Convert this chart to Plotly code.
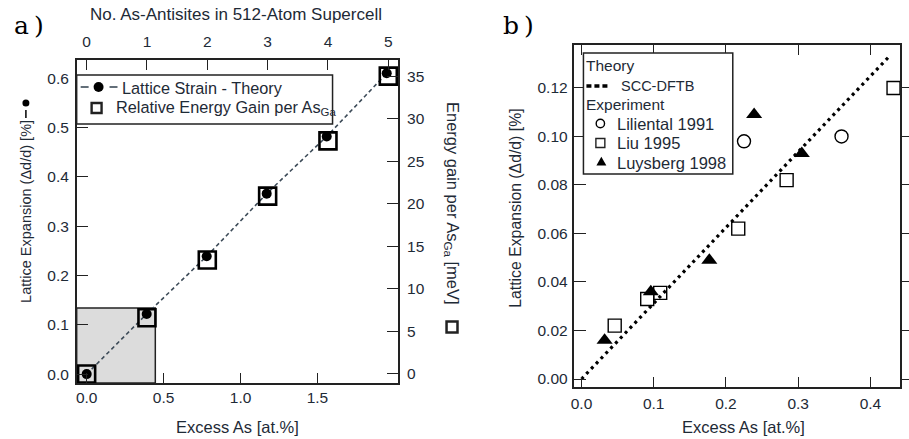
import plotly.graph_objects as go

W, H = 909, 439

# ---- panel a: lattice strain and energy gain vs. number of As antisites ----
antisites = [0, 1, 2, 3, 4, 5]
excess_as_a = [0.0, 0.39, 0.78, 1.17, 1.56, 1.95]
strain_theory = [0.0, 0.122, 0.239, 0.366, 0.482, 0.610]
energy_gain = [0.0, 6.6, 13.4, 20.9, 27.4, 35.0]

# ---- panel b: theory vs. experiment ----
dftb_x = [0.0, 0.428]
dftb_y = [0.0, 0.1336]
liliental_x = [0.225, 0.360]
liliental_y = [0.098, 0.100]
liu_x = [0.046, 0.091, 0.109, 0.217, 0.284, 0.432]
liu_y = [0.022, 0.033, 0.0355, 0.062, 0.082, 0.120]
luysberg_x = [0.032, 0.096, 0.177, 0.239, 0.305]
luysberg_y = [0.016, 0.036, 0.049, 0.109, 0.093]

a_xticks = [0.0, 0.5, 1.0, 1.5]
a_yticks = [0.0, 0.1, 0.2, 0.3, 0.4, 0.5, 0.6]
a_y2ticks = [0, 5, 10, 15, 20, 25, 30, 35]
b_xticks = [0.0, 0.1, 0.2, 0.3, 0.4]
b_yticks = [0.00, 0.02, 0.04, 0.06, 0.08, 0.10, 0.12]

TXT = "#1e2a36"
LINE = "#222222"
STRAIN_LINE = "#3d4b58"
FONT = "Liberation Sans, Arial, sans-serif"
FS = 15.5


def px(x):
    return x / W


def py(y):
    return 1 - y / H


fig = go.Figure()

# panel a traces
fig.add_trace(go.Scatter(
    x=excess_as_a, y=strain_theory, xaxis="x", yaxis="y",
    mode="lines+markers", name="Lattice Strain - Theory",
    line=dict(color=STRAIN_LINE, width=1.6, dash="4px,3px"),
    marker=dict(symbol="circle", size=10, color="black"),
))
fig.add_trace(go.Scatter(
    x=antisites, y=energy_gain, xaxis="x2", yaxis="y2",
    mode="markers", name="Relative Energy Gain per AsGa",
    marker=dict(symbol="square-open", size=17, color="black", line=dict(width=2.6)),
))

# panel b traces
fig.add_trace(go.Scatter(
    x=dftb_x, y=dftb_y, xaxis="x3", yaxis="y3", mode="lines", name="SCC-DFTB",
    line=dict(color="black", width=3.2, dash="3px,4px"),
))
fig.add_trace(go.Scatter(
    x=liliental_x, y=liliental_y, xaxis="x3", yaxis="y3", mode="markers", name="Liliental 1991",
    marker=dict(symbol="circle-open", size=13, color="black", line=dict(width=1.4)),
))
fig.add_trace(go.Scatter(
    x=liu_x, y=liu_y, xaxis="x3", yaxis="y3", mode="markers", name="Liu 1995",
    marker=dict(symbol="square-open", size=13, color="black", line=dict(width=1.4)),
))
fig.add_trace(go.Scatter(
    x=luysberg_x, y=luysberg_y, xaxis="x3", yaxis="y3", mode="markers", name="Luysberg 1998",
    marker=dict(symbol="triangle-up", size=14, color="black"),
))
# empty trace so the right-hand tick axis of panel b is drawn
fig.add_trace(go.Scatter(x=[None], y=[None], xaxis="x3", yaxis="y4", hoverinfo="skip"))

axis_common = dict(showgrid=False, zeroline=False, showline=True, linecolor=LINE, linewidth=1.5,
                   tickcolor=LINE, tickwidth=1.3, tickfont=dict(size=FS, color=TXT, family=FONT))

fig.update_layout(
    width=W, height=H, margin=dict(l=0, r=0, t=0, b=0),
    paper_bgcolor="white", plot_bgcolor="white",
    font=dict(family=FONT, color=TXT, size=FS),
    showlegend=False,
    xaxis=dict(domain=[px(73), px(396)], anchor="y", range=[-0.065, 2.025],
               tickvals=a_xticks, ticktext=[f"{v:.1f}" for v in a_xticks],
               ticks="inside", ticklen=10, ticklabelstandoff=0, **axis_common),
    xaxis2=dict(overlaying="x", side="top", anchor="y", range=[-0.165, 5.165],
                tickvals=antisites, ticktext=[str(v) for v in antisites],
                ticks="inside", ticklen=10, ticklabelstandoff=5, **axis_common),
    yaxis=dict(domain=[py(383), py(60)], anchor="x", range=[-0.018, 0.637],
               tickvals=a_yticks, ticktext=[f"{v:.1f}" for v in a_yticks],
               ticks="inside", ticklen=12, ticklabelstandoff=3, **axis_common),
    yaxis2=dict(overlaying="y", side="right", anchor="x", range=[-1.06, 36.9],
                tickvals=a_y2ticks, ticktext=[str(v) for v in a_y2ticks],
                ticks="inside", ticklen=12, ticklabelstandoff=4, **axis_common),
    xaxis3=dict(domain=[px(573), px(900)], anchor="y3", range=[-0.0097, 0.441],
                tickvals=b_xticks, ticktext=[f"{v:.1f}" for v in b_xticks],
                ticks="inside", ticklen=10, mirror="ticks", ticklabelstandoff=2, **axis_common),
    yaxis3=dict(domain=[py(387), py(45)], anchor="x3", range=[-0.0033, 0.1377],
                tickvals=b_yticks, ticktext=[f"{v:.2f}" for v in b_yticks],
                ticks="inside", ticklen=12, mirror=True, ticklabelstandoff=2, **axis_common),
    yaxis4=dict(overlaying="y3", side="right", anchor="x3", range=[-0.0033, 0.1377],
                tickvals=b_yticks, showticklabels=False,
                ticks="outside", ticklen=8, **axis_common),
)

shapes = []
annotations = []


def text(t, x, y, size=FS, anchor="left", angle=0, color=TXT, family=FONT):
    annotations.append(dict(text=t, x=px(x), y=py(y), xref="paper", yref="paper", showarrow=False,
                            xanchor=anchor, yanchor="middle", textangle=angle, borderpad=0,
                            font=dict(size=size, color=color, family=family)))


def rect(x0, y0, x1, y1, lw=1.5, fill=None, layer="above"):
    s = dict(type="rect", xref="paper", yref="paper", x0=px(x0), x1=px(x1), y0=py(y1), y1=py(y0),
             line=dict(color=LINE, width=lw), layer=layer)
    if fill:
        s["fillcolor"] = fill
    shapes.append(s)


def dot(cx, cy, r, filled=True, lw=1.4):
    shapes.append(dict(type="circle", xref="paper", yref="paper",
                       x0=px(cx - r), x1=px(cx + r), y0=py(cy + r), y1=py(cy - r),
                       fillcolor="black" if filled else "white",
                       line=dict(color="black", width=0 if filled else lw)))


def seg(x0, y0, x1, y1, color="black", width=1.5, dash="solid"):
    shapes.append(dict(type="line", xref="paper", yref="paper", x0=px(x0), x1=px(x1),
                       y0=py(y0), y1=py(y1), line=dict(color=color, width=width, dash=dash)))


def tri(cx, cy, s):
    h = s * 0.87
    path = (f"M {px(cx - s / 2)},{py(cy + h / 3)} L {px(cx + s / 2)},{py(cy + h / 3)} "
            f"L {px(cx)},{py(cy - 2 * h / 3)} Z")
    shapes.append(dict(type="path", xref="paper", yref="paper", path=path,
                       fillcolor="black", line=dict(color="black", width=0)))


# shaded region in panel a
shapes.append(dict(type="rect", xref="x", yref="y", x0=-0.065, x1=0.446, y0=-0.018, y1=0.134,
                   fillcolor="#dcdcdc", line=dict(color=LINE, width=1.5), layer="below"))

# legend of panel a
rect(73, 75, 330, 124, fill="white")
seg(77, 87, 85, 87, color=STRAIN_LINE, width=1.6)
seg(106, 87, 114, 87, color=STRAIN_LINE, width=1.6)
dot(95, 87, 5)
text("Lattice Strain - Theory", 118, 88, size=16.3)
rect(88, 103, 98, 113, lw=2.4)
text("Relative Energy Gain per As<sub>Ga</sub>", 111, 108, size=16.3)

# legend of panel b
rect(582, 53, 732, 174, fill="white")
text("Theory", 584, 66)
seg(585, 86, 607, 86, width=3.6, dash="5px,3px")
text("SCC-DFTB", 619, 86, size=14.5)
text("Experiment", 584, 105)
dot(599, 123.5, 4.2, filled=False)
text("Liliental 1991", 615, 124, size=16.5)
rect(594.5, 138.5, 603.5, 147.5, lw=1.4)
text("Liu 1995", 615, 143, size=16.5)
tri(600, 162.5, 10)
text("Luysberg 1998", 615, 163, size=16.5)

# glyphs beside the panel a axis titles: line+dot (left), open square (right)
seg(22, 118, 22, 110, width=1.5)
dot(22, 103, 3.5)
rect(444.5, 321.5, 455.5, 332.5, lw=2.5)

# axis titles
text("No. As-Antisites in 512-Atom Supercell", 233, 15, size=17, anchor="center")
text("Excess As [at.%]", 235, 427, size=16.5, anchor="center")
text("Excess As [at.%]", 743, 427, size=16.5, anchor="center")
text("Lattice Expansion (Δd/d) [%]", 22, 211, size=14.5, anchor="center", angle=-90)
text("Energy gain per As<sub>Ga</sub> [meV]", 450, 203, size=16.5, anchor="center", angle=90)
text("Lattice Expansion (Δd/d) [%]", 513, 208, size=15.8, anchor="center", angle=-90)

# panel labels
text("a\u2009)", 25, 25, size=25, anchor="center", color="black", family="DejaVu Serif, serif")
text("b\u2009)", 517, 25, size=25, anchor="center", color="black", family="DejaVu Serif, serif")

fig.update_layout(shapes=shapes, annotations=annotations)
fig.write_html("out.html")
